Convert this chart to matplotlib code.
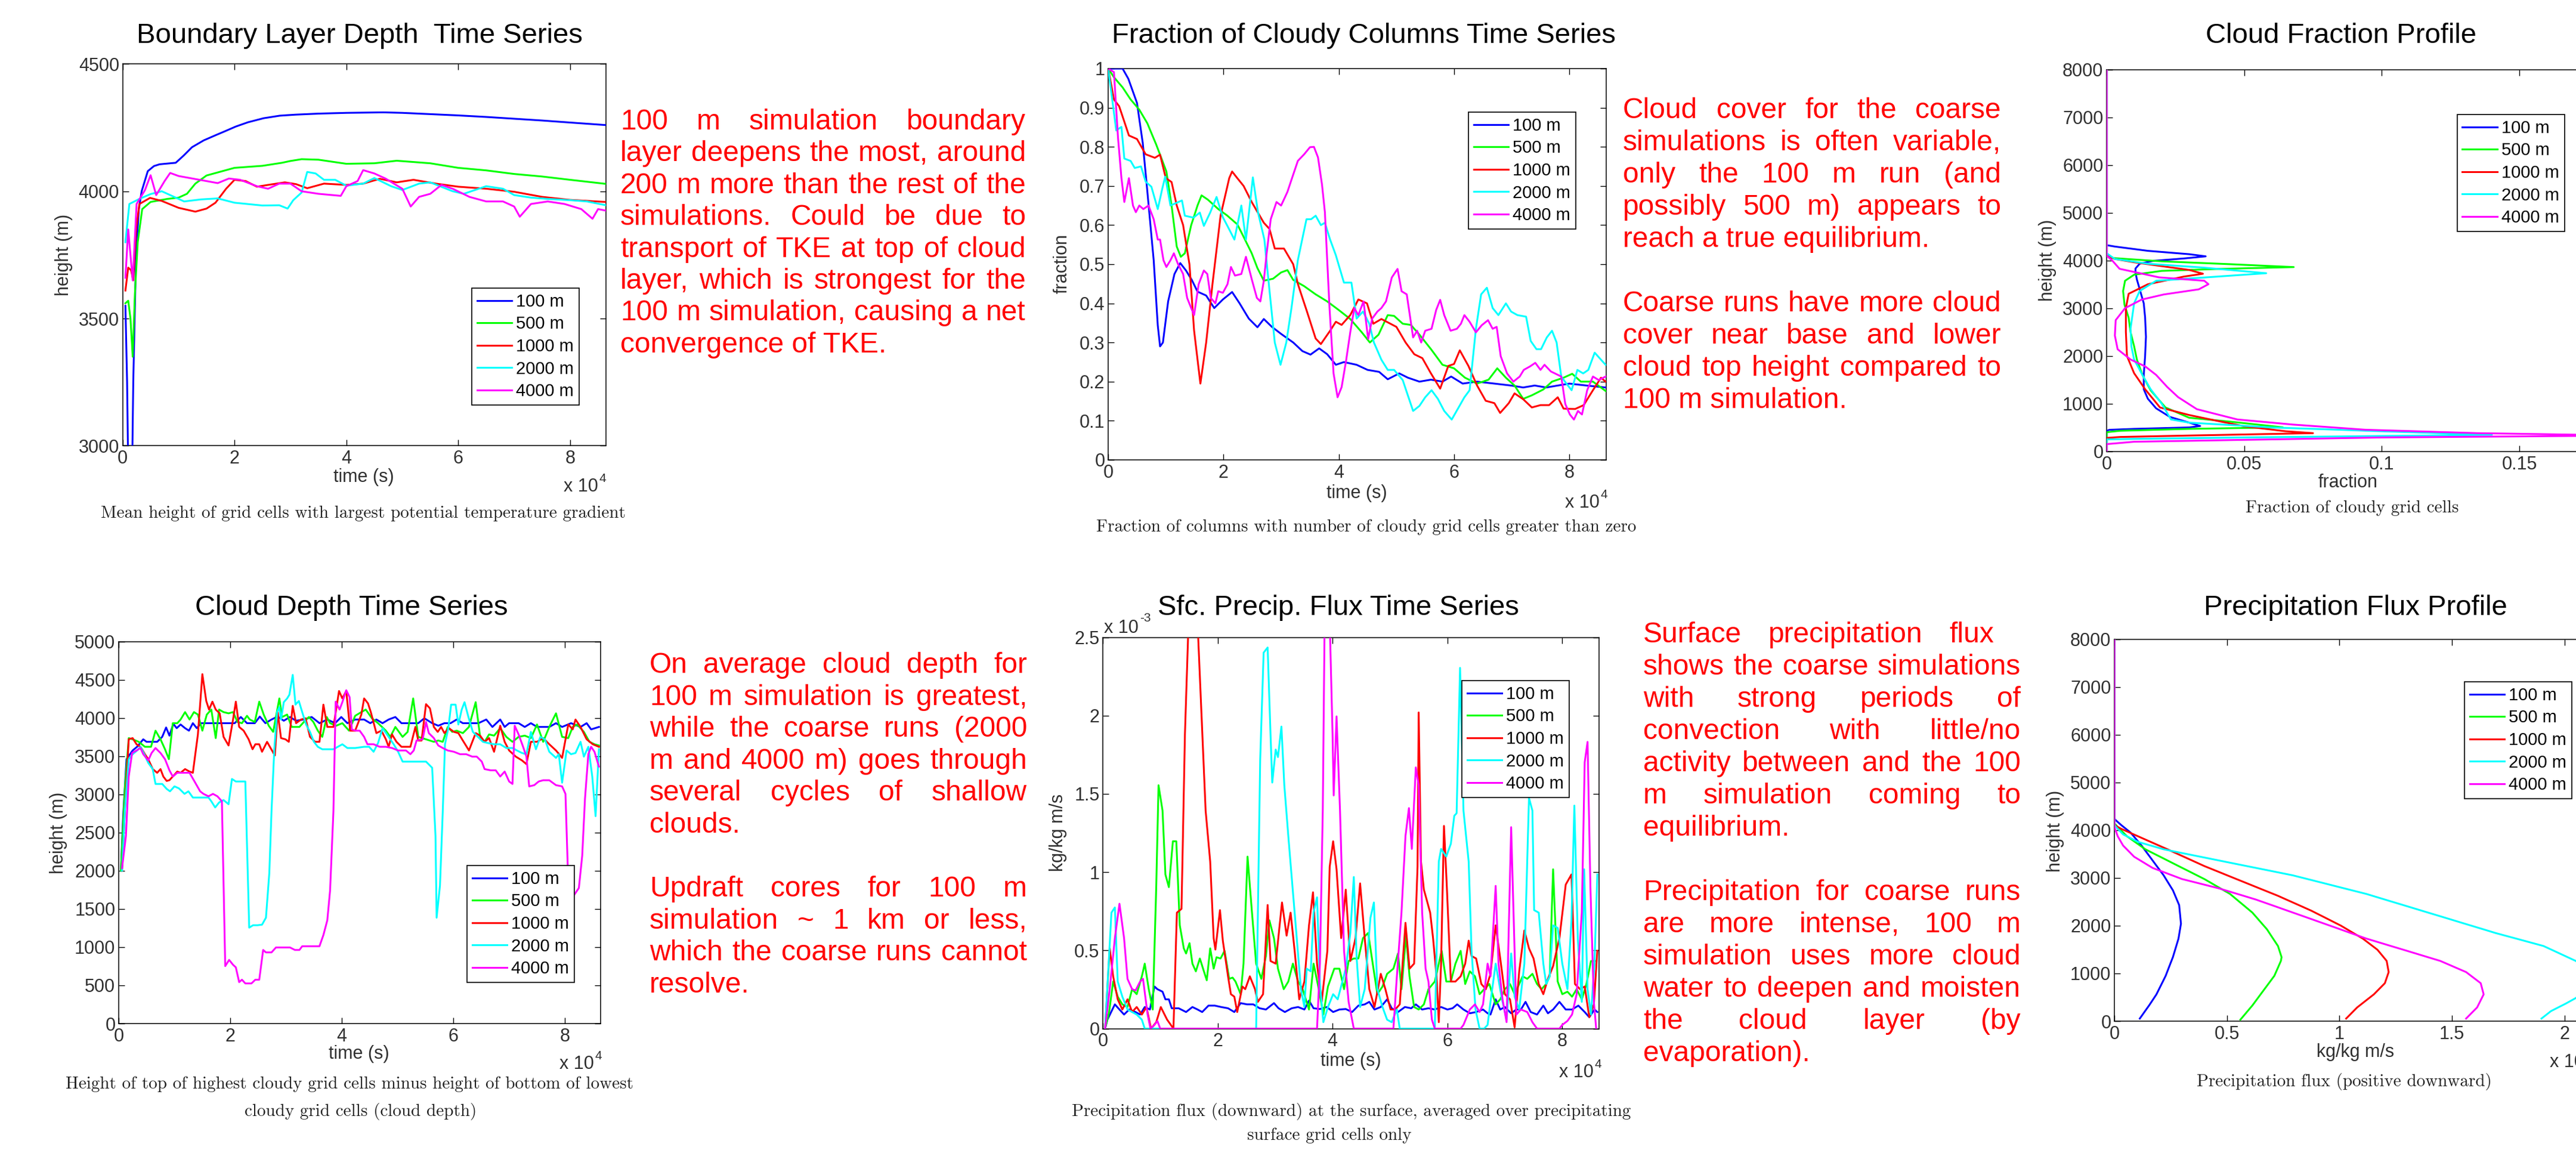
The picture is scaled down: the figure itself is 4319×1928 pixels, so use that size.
import matplotlib
matplotlib.use('Agg')
import matplotlib.pyplot as plt
from matplotlib.ticker import FixedLocator, FuncFormatter

# ---------------------------------------------------------------- data
SERIES = ['100 m', '500 m', '1000 m', '2000 m', '4000 m']
COLORS = ['#0000ff', '#00ff00', '#ff0000', '#00ffff', '#ff00ff']

# Boundary layer depth time series: (time [1e4 s], height [m])
BL_100 = [(0.05,3550),(0.08,3250),(0.10,2900),(0.17,2900),(0.19,3250),(0.24,3750),(0.29,3930),(0.34,4000),
          (0.45,4079),(0.56,4099),(0.66,4106),(0.95,4112),(1.09,4140),(1.24,4173),(1.45,4200),(1.66,4220),
          (1.81,4234),(2.02,4254),(2.24,4271),(2.52,4287),(2.81,4297),(3.09,4301),(3.50,4305),(4.00,4308),
          (4.66,4310),(5.00,4308),(5.50,4303),(6.00,4298),(6.50,4292),(7.00,4285),(7.50,4278),(8.00,4270),(8.64,4260)]
BL_500 = [(0.05,3560),(0.10,3570),(0.14,3500),(0.18,3350),(0.22,3600),(0.27,3800),(0.35,3930),(0.50,3958),
          (0.80,3970),(1.00,3975),(1.15,3990),(1.30,4030),(1.50,4062),(1.80,4080),(2.00,4092),(2.50,4100),
          (2.85,4112),(3.00,4119),(3.20,4126),(3.50,4124),(4.00,4108),(4.50,4110),(4.90,4120),(5.50,4110),
          (6.00,4092),(6.50,4082),(7.00,4068),(7.50,4058),(8.00,4045),(8.64,4029)]
BL_1000 = [(0.05,3610),(0.10,3700),(0.15,3690),(0.19,3650),(0.24,3850),(0.30,3950),(0.49,3974),(0.70,3962),
           (1.00,3935),(1.30,3920),(1.50,3932),(1.66,3955),(1.85,4010),(2.00,4045),(2.20,4040),(2.40,4018),
           (2.60,4025),(2.90,4035),(3.10,4028),(3.30,4012),(3.60,4030),(4.00,4025),(4.30,4030),(4.60,4049),
           (4.90,4035),(5.20,4045),(5.60,4030),(6.00,4018),(6.50,4010),(7.00,3998),(7.50,3978),(8.00,3966),(8.64,3958)]
BL_2000 = [(0.05,3800),(0.12,3950),(0.30,3970),(0.50,3989),(0.70,4000),(0.90,3980),(1.10,3960),(1.40,3968),
           (1.70,3972),(2.00,3955),(2.50,3944),(2.80,3945),(2.95,3932),(3.05,3965),(3.20,3995),(3.30,4076),
           (3.45,4070),(3.60,4045),(3.80,4045),(4.00,4022),(4.30,4030),(4.50,4052),(4.80,4020),(5.00,4005),
           (5.30,4030),(5.50,4035),(5.90,4000),(6.10,3990),(6.50,4020),(6.80,4010),(7.00,3985),(7.30,3975),
           (7.60,3970),(8.00,3965),(8.30,3960),(8.64,3945)]
BL_4000 = [(0.05,3660),(0.10,3850),(0.18,3650),(0.25,3950),(0.40,4005),(0.50,4063),(0.60,3985),(0.75,4040),
           (0.85,4072),(1.00,4060),(1.20,4052),(1.50,4040),(1.70,4032),(1.90,4050),(2.10,4045),(2.40,4020),
           (2.60,4010),(2.80,4030),(3.00,4030),(3.20,4000),(3.50,3990),(3.90,3982),(4.00,4020),(4.20,4040),
           (4.30,4083),(4.50,4070),(4.70,4050),(5.00,4010),(5.15,3940),(5.30,3978),(5.50,3990),(5.70,4025),
           (5.90,4010),(6.20,3978),(6.50,3960),(6.80,3960),(7.00,3940),(7.10,3900),(7.30,3950),(7.60,3960),
           (7.90,3950),(8.20,3930),(8.40,3892),(8.50,3930),(8.64,3924)]

# Fraction of cloudy columns: (time [1e4 s], fraction)
FC_100 = [(0,1.0),(0.25,1.0),(0.35,0.974),(0.50,0.912),(0.60,0.81),(0.68,0.685),(0.79,0.51),(0.86,0.344),
          (0.90,0.29),(0.95,0.30),(1.04,0.405),(1.15,0.475),(1.25,0.503),(1.35,0.484),(1.45,0.46),(1.55,0.43),
          (1.70,0.42),(1.84,0.388),(1.99,0.41),(2.15,0.429),(2.28,0.40),(2.44,0.361),(2.59,0.339),(2.70,0.36),
          (2.84,0.34),(3.00,0.322),(3.21,0.30),(3.37,0.278),(3.51,0.269),(3.66,0.285),(3.80,0.27),(3.95,0.243),
          (4.09,0.25),(4.31,0.243),(4.50,0.23),(4.70,0.225),(4.85,0.206),(5.05,0.221),(5.20,0.21),(5.40,0.20),
          (5.60,0.205),(5.80,0.20),(5.95,0.213),(6.15,0.195),(6.40,0.20),(6.70,0.195),(6.99,0.19),(7.20,0.185),
          (7.40,0.19),(7.60,0.185),(7.80,0.19),(8.00,0.195),(8.30,0.19),(8.63,0.185)]
FC_500 = [(0,1.0),(0.10,0.978),(0.25,0.952),(0.39,0.921),(0.54,0.895),(0.68,0.86),(0.83,0.807),(0.90,0.78),
          (1.01,0.737),(1.10,0.65),(1.19,0.545),(1.26,0.519),(1.33,0.528),(1.44,0.60),(1.55,0.65),(1.62,0.676),
          (1.73,0.665),(1.91,0.641),(2.06,0.625),(2.24,0.602),(2.35,0.57),(2.49,0.528),(2.59,0.49),(2.70,0.458),
          (2.86,0.463),(3.00,0.479),(3.11,0.485),(3.21,0.46),(3.40,0.444),(3.60,0.423),(3.80,0.405),(4.00,0.383),
          (4.20,0.36),(4.40,0.326),(4.54,0.30),(4.69,0.32),(4.85,0.37),(4.96,0.368),(5.11,0.348),(5.25,0.345),
          (5.40,0.32),(5.60,0.283),(5.80,0.243),(6.00,0.234),(6.19,0.21),(6.40,0.195),(6.60,0.205),(6.75,0.234),
          (6.90,0.21),(7.05,0.19),(7.20,0.156),(7.35,0.165),(7.55,0.18),(7.70,0.20),(7.90,0.21),(8.05,0.22),
          (8.20,0.20),(8.41,0.20),(8.63,0.176)]
FC_1000 = [(0,1.0),(0.10,0.921),(0.19,0.904),(0.36,0.829),(0.50,0.82),(0.65,0.781),(0.81,0.772),(0.90,0.78),
           (1.00,0.72),(1.10,0.71),(1.19,0.65),(1.30,0.60),(1.41,0.50),(1.49,0.331),(1.60,0.195),(1.70,0.30),
           (1.81,0.45),(1.95,0.624),(2.10,0.72),(2.15,0.737),(2.24,0.72),(2.35,0.70),(2.49,0.659),(2.70,0.606),
           (2.80,0.59),(2.89,0.54),(3.05,0.54),(3.21,0.50),(3.29,0.45),(3.44,0.383),(3.60,0.31),(3.69,0.296),
           (3.85,0.33),(3.95,0.353),(4.05,0.345),(4.20,0.37),(4.34,0.41),(4.49,0.40),(4.60,0.348),(4.74,0.36),
           (5.00,0.34),(5.16,0.30),(5.31,0.27),(5.45,0.26),(5.60,0.221),(5.76,0.182),(5.90,0.24),(6.00,0.245),
           (6.10,0.28),(6.25,0.24),(6.40,0.19),(6.55,0.151),(6.70,0.145),(6.80,0.12),(6.95,0.145),(7.05,0.17),
           (7.20,0.155),(7.35,0.134),(7.50,0.14),(7.65,0.14),(7.80,0.16),(7.90,0.131),(8.10,0.13),(8.25,0.14),
           (8.41,0.178),(8.55,0.21),(8.63,0.20)]
FC_2000 = [(0,1.0),(0.14,0.842),(0.23,0.851),(0.28,0.77),(0.39,0.764),(0.46,0.746),(0.57,0.75),(0.65,0.711),
           (0.75,0.698),(0.86,0.641),(0.94,0.694),(0.99,0.724),(1.08,0.65),(1.28,0.663),(1.33,0.624),(1.48,0.619),
           (1.59,0.632),(1.66,0.598),(1.77,0.632),(1.88,0.672),(1.99,0.62),(2.10,0.589),(2.19,0.563),(2.31,0.65),
           (2.39,0.563),(2.51,0.722),(2.60,0.632),(2.71,0.563),(2.80,0.431),(2.89,0.30),(2.99,0.243),(3.09,0.30),
           (3.18,0.388),(3.29,0.51),(3.44,0.615),(3.52,0.615),(3.60,0.624),(3.69,0.60),(3.76,0.606),(3.85,0.563),
           (3.95,0.523),(4.09,0.453),(4.22,0.453),(4.31,0.361),(4.42,0.379),(4.53,0.348),(4.61,0.30),(4.74,0.256),
           (4.85,0.23),(4.96,0.23),(5.11,0.204),(5.29,0.125),(5.40,0.138),(5.50,0.16),(5.61,0.178),(5.72,0.156),
           (5.83,0.125),(5.96,0.103),(6.06,0.129),(6.18,0.16),(6.27,0.178),(6.38,0.335),(6.47,0.423),(6.57,0.44),
           (6.67,0.388),(6.77,0.37),(6.90,0.40),(6.99,0.379),(7.10,0.37),(7.25,0.366),(7.33,0.304),(7.43,0.283),
           (7.51,0.283),(7.61,0.313),(7.70,0.33),(7.78,0.30),(7.86,0.213),(7.95,0.195),(8.04,0.178),(8.14,0.23),
           (8.24,0.221),(8.33,0.23),(8.44,0.274),(8.55,0.256),(8.63,0.243)]
FC_4000 = [(0,1.0),(0.10,0.991),(0.17,0.825),(0.23,0.72),(0.28,0.659),(0.36,0.72),(0.43,0.65),(0.48,0.633),
           (0.54,0.65),(0.61,0.641),(0.70,0.65),(0.79,0.615),(0.86,0.563),(0.90,0.563),(0.96,0.51),(1.01,0.493),
           (1.08,0.51),(1.14,0.528),(1.21,0.501),(1.30,0.475),(1.37,0.414),(1.44,0.388),(1.49,0.37),(1.57,0.449),
           (1.66,0.484),(1.72,0.475),(1.78,0.414),(1.86,0.40),(1.91,0.431),(1.99,0.427),(2.07,0.449),(2.13,0.493),
           (2.20,0.471),(2.31,0.475),(2.39,0.519),(2.49,0.462),(2.58,0.414),(2.64,0.405),(2.70,0.458),(2.75,0.528),
           (2.82,0.615),(2.92,0.659),(3.00,0.65),(3.11,0.685),(3.21,0.729),(3.29,0.764),(3.40,0.781),(3.50,0.799),
           (3.57,0.80),(3.64,0.773),(3.71,0.703),(3.76,0.633),(3.84,0.388),(3.91,0.221),(3.98,0.16),(4.05,0.186),
           (4.13,0.256),(4.20,0.326),(4.27,0.388),(4.34,0.37),(4.43,0.405),(4.51,0.309),(4.58,0.361),(4.67,0.379),
           (4.74,0.388),(4.82,0.405),(4.92,0.466),(5.02,0.488),(5.09,0.431),(5.18,0.423),(5.29,0.313),(5.36,0.33),
           (5.43,0.30),(5.50,0.33),(5.61,0.335),(5.69,0.383),(5.76,0.409),(5.83,0.37),(5.94,0.33),(6.05,0.335),
           (6.12,0.348),(6.18,0.37),(6.27,0.353),(6.38,0.326),(6.48,0.344),(6.59,0.357),(6.67,0.335),(6.74,0.34),
           (6.81,0.265),(6.92,0.221),(7.03,0.20),(7.14,0.213),(7.21,0.23),(7.32,0.239),(7.41,0.248),(7.50,0.23),
           (7.57,0.243),(7.68,0.226),(7.75,0.221),(7.86,0.213),(7.93,0.143),(8.01,0.116),(8.08,0.103),(8.15,0.125),
           (8.22,0.116),(8.31,0.178),(8.41,0.213),(8.51,0.204),(8.63,0.213)]

# Cloud fraction profile: (fraction, height [m])
CF_100 = [(0,8000),(0,4320),(0.003,4290),(0.015,4200),(0.030,4130),(0.036,4085),(0.028,4040),(0.017,3990),
          (0.012,3930),(0.0105,3830),(0.0105,3750),(0.011,3600),(0.012,3400),(0.0135,3100),(0.014,2800),
          (0.0143,2400),(0.014,2000),(0.0135,1600),(0.0135,1300),(0.015,1100),(0.018,900),(0.023,720),
          (0.030,600),(0.034,530),(0.030,500),(0.010,470),(0.001,450),(0,430),(0,0)]
CF_500 = [(0,8000),(0,4100),(0.002,4050),(0.02,3980),(0.045,3920),(0.068,3860),(0.04,3820),(0.02,3780),
          (0.01,3700),(0.0067,3573),(0.006,3358),(0.0065,3071),(0.008,2800),(0.0087,2497),(0.010,2200),
          (0.011,1923),(0.013,1600),(0.016,1277),(0.0214,918),(0.030,703),(0.045,620),(0.064,502),(0.030,470),
          (0.005,430),(0,400),(0,0)]
CF_1000 = [(0,8000),(0,4100),(0.003,4030),(0.01,3960),(0.02,3880),(0.030,3800),(0.035,3720),(0.028,3660),
           (0.015,3500),(0.008,3300),(0.007,3000),(0.007,2500),(0.0074,1995),(0.010,1636),(0.014,1300),
           (0.0194,918),(0.030,760),(0.040,640),(0.050,524),(0.065,420),(0.075,380),(0.03,330),(0.005,300),
           (0,280),(0,0)]
CF_2000 = [(0,8000),(0,4150),(0.003,4030),(0.015,3930),(0.035,3850),(0.058,3731),(0.035,3640),(0.018,3573),
           (0.012,3358),(0.010,3100),(0.0087,2569),(0.009,2200),(0.010,1923),(0.013,1600),(0.016,1300),
           (0.020,1000),(0.0234,667),(0.030,600),(0.060,500),(0.100,420),(0.140,345),(0.05,290),(0.01,260),
           (0,250),(0,0)]
CF_4000 = [(0,8000),(0,4100),(0.002,4000),(0.0047,3824),(0.019,3645),(0.0355,3573),(0.037,3501),(0.0335,3394),
           (0.0208,3286),(0.0127,3178),(0.0067,2999),(0.0033,2748),(0.003,2425),(0.004,2138),(0.0087,1923),
           (0.014,1780),(0.018,1600),(0.022,1349),(0.026,1134),(0.0328,882),(0.0475,667),(0.0676,560),
           (0.094,452),(0.1346,380),(0.19,330),(0.10,290),(0.01,200),(0,150),(0,0)]

# Cloud depth time series: (time [1e4 s], depth [m])
CD_100 = [(0.04,2001),(0.08,2714),(0.14,3460),(0.25,3574),(0.33,3622),(0.44,3720),(0.50,3687),(0.69,3687),
          (0.78,3752),(0.85,3875),(0.91,3768),(0.98,3921),(1.04,3866),(1.11,3914),(1.19,3866),(1.26,3833),
          (1.33,3931),(1.40,3866),(1.48,3931),(1.63,3931),(1.85,3931),(2.08,3931),(2.19,4012),(2.30,3931),
          (2.44,3931),(2.53,4018),(2.63,3931),(2.74,3979),(2.85,4018),(2.96,3963),(3.07,4012),(3.18,3963),
          (3.32,3979),(3.46,4012),(3.60,3931),(3.74,3979),(3.88,3931),(3.99,4012),(4.10,3931),(4.24,3979),
          (4.40,3979),(4.51,3931),(4.62,3979),(4.73,3931),(4.84,3979),(4.96,4012),(5.07,3931),(5.20,3931),
          (5.37,3931),(5.48,3995),(5.62,3931),(5.73,3898),(5.84,3931),(5.95,3931),(6.06,3979),(6.17,3931),
          (6.34,3931),(6.45,3931),(6.59,3979),(6.70,3882),(6.84,3979),(6.92,3882),(7.00,3931),(7.17,3931),
          (7.28,3882),(7.39,3931),(7.50,3882),(7.72,3882),(7.84,3931),(7.95,3882),(8.11,3931),(8.28,3882),
          (8.39,3931),(8.47,3850),(8.61,3882)]
CD_500 = [(0.04,2001),(0.11,3071),(0.18,3736),(0.25,3720),(0.36,3687),(0.47,3622),(0.58,3622),(0.66,3833),
          (0.75,3720),(0.83,3590),(0.90,3460),(0.97,3931),(1.05,3931),(1.11,3979),(1.19,4076),(1.27,3979),
          (1.35,4076),(1.42,4044),(1.50,3833),(1.58,4044),(1.66,4109),(1.74,3736),(1.80,4109),(1.88,4076),
          (1.97,4060),(2.05,4076),(2.13,3947),(2.21,3931),(2.30,4028),(2.35,3979),(2.44,3947),(2.52,4213),
          (2.60,4044),(2.69,3898),(2.77,3817),(2.88,4255),(2.93,4012),(3.02,4044),(3.10,3882),(3.24,3882),
          (3.32,3947),(3.41,4012),(3.49,3947),(3.57,3833),(3.65,3752),(3.73,4012),(3.79,3931),(3.90,3898),
          (4.01,3931),(4.13,3833),(4.24,4028),(4.35,4076),(4.43,4109),(4.54,3995),(4.65,3931),(4.79,3833),
          (4.87,3752),(4.96,3882),(5.09,3752),(5.18,3817),(5.28,4255),(5.37,3752),(5.51,3720),(5.65,3687),
          (5.73,3704),(5.81,3687),(5.90,3882),(5.98,3817),(6.06,3833),(6.17,3801),(6.28,3882),(6.40,4206),
          (6.48,3752),(6.56,3687),(6.64,3784),(6.73,3768),(6.84,3866),(6.95,3752),(7.06,3687),(7.17,3752),
          (7.28,3768),(7.39,3736),(7.50,3914),(7.61,3687),(7.72,3882),(7.84,4060),(7.95,3752),(8.06,3736),
          (8.14,3882),(8.22,3914),(8.34,3817),(8.44,3687),(8.53,3655),(8.61,3639)]
CD_1000 = [(0.06,2001),(0.11,2779),(0.18,3720),(0.25,3736),(0.32,3655),(0.39,3622),(0.47,3525),(0.53,3460),
           (0.61,3330),(0.69,3282),(0.75,3330),(0.80,3233),(0.86,3175),(0.91,3185),(0.97,3233),(1.05,3298),
           (1.11,3282),(1.19,3330),(1.27,3298),(1.33,3282),(1.42,3784),(1.50,4573),(1.57,4222),(1.62,4109),
           (1.68,4213),(1.74,4109),(1.81,4060),(1.88,3752),(1.97,3639),(2.05,3979),(2.10,4213),(2.16,3882),
           (2.24,3833),(2.33,3720),(2.40,3590),(2.45,3655),(2.52,3655),(2.57,3557),(2.66,3687),(2.71,3622),
           (2.80,3509),(2.85,4076),(2.91,3736),(2.99,3720),(3.05,3687),(3.12,4158),(3.18,3931),(3.27,3979),
           (3.35,3995),(3.43,3752),(3.52,3687),(3.60,3687),(3.67,4174),(3.74,3882),(3.85,3882),(3.95,4352),
           (4.01,4255),(4.08,4352),(4.15,3833),(4.24,3833),(4.35,4044),(4.40,4255),(4.47,4190),(4.52,4076),
           (4.62,3801),(4.71,3833),(4.79,3720),(4.84,3622),(4.90,3784),(4.98,3687),(5.07,3622),(5.15,3622),
           (5.23,3622),(5.32,3882),(5.37,3704),(5.43,3704),(5.51,4180),(5.58,4125),(5.65,3882),(5.72,3817),
           (5.78,3882),(5.84,3801),(5.92,3866),(6.01,3817),(6.09,3801),(6.17,3704),(6.28,3574),(6.40,3801),
           (6.48,3768),(6.56,3687),(6.64,3736),(6.73,3557),(6.84,3898),(6.92,3687),(7.00,3574),(7.12,3493),
           (7.23,3444),(7.31,3395),(7.39,3687),(7.50,3687),(7.61,3736),(7.72,3655),(7.84,3574),(7.95,3477),
           (8.06,3914),(8.14,3850),(8.19,3979),(8.28,3882),(8.39,3720),(8.50,3655),(8.61,3622)]
CD_2000 = [(0.06,2001),(0.11,2779),(0.18,3460),(0.25,3525),(0.33,3574),(0.39,3622),(0.47,3509),(0.53,3412),
           (0.61,3330),(0.66,3136),(0.78,3136),(0.86,3071),(0.92,3039),(1.00,3104),(1.08,3078),(1.18,3006),
           (1.25,3039),(1.33,2958),(1.41,2958),(1.52,2958),(1.61,2958),(1.66,2909),(1.73,2828),(1.80,2893),
           (1.88,2925),(1.97,2870),(2.03,3201),(2.10,3168),(2.19,3168),(2.27,3168),(2.34,1255),(2.41,1287),
           (2.49,1287),(2.57,1294),(2.64,1385),(2.70,1969),(2.74,2779),(2.79,3590),(2.84,4076),(2.88,4141),
           (2.91,3979),(2.96,4206),(3.02,4255),(3.06,4303),(3.12,4563),(3.17,4174),(3.23,4222),(3.29,4076),
           (3.36,3914),(3.43,3817),(3.50,3687),(3.57,3622),(3.65,3590),(3.85,3590),(4.01,3655),(4.10,3606),
           (4.24,3606),(4.40,3622),(4.49,3622),(4.57,3557),(4.65,3671),(4.73,3866),(4.84,3752),(4.93,3655),
           (5.01,3557),(5.09,3428),(5.23,3428),(5.37,3428),(5.51,3428),(5.62,3347),(5.68,2455),(5.70,1385),
           (5.76,1806),(5.81,2779),(5.85,3655),(5.91,3866),(5.96,4174),(6.04,4174),(6.09,3914),(6.15,4109),
           (6.20,4206),(6.27,4012),(6.35,3817),(6.44,3752),(6.53,3687),(6.62,3671),(6.73,3655),(6.84,3655),
           (6.95,3606),(7.06,3606),(7.14,3574),(7.23,3541),(7.31,3525),(7.39,3817),(7.48,3590),(7.56,3752),
           (7.64,3720),(7.72,3557),(7.84,3477),(7.89,3525),(7.95,3152),(8.03,3574),(8.11,3525),(8.19,3541),
           (8.28,3687),(8.34,3493),(8.42,3622),(8.49,3233),(8.55,2714),(8.61,3590)]
CD_4000 = [(0.06,2033),(0.13,2455),(0.18,3233),(0.24,3541),(0.32,3574),(0.39,3606),(0.44,3525),(0.53,3444),
           (0.59,3541),(0.66,3606),(0.75,3541),(0.83,3460),(0.91,3314),(0.97,3233),(1.05,3282),(1.14,3282),
           (1.27,3282),(1.36,3168),(1.46,3039),(1.52,3006),(1.61,2974),(1.69,3006),(1.77,2974),(1.85,2909),
           (1.91,752),(1.98,833),(2.05,769),(2.10,736),(2.16,542),(2.21,574),(2.27,525),(2.38,525),(2.45,574),
           (2.52,574),(2.59,963),(2.64,931),(2.74,931),(2.82,996),(2.96,996),(3.07,996),(3.16,963),(3.24,963),
           (3.29,1012),(3.41,1012),(3.60,1012),(3.67,1158),(3.74,1352),(3.79,1742),(3.85,2779),(3.89,4213),
           (3.96,4109),(4.01,4206),(4.08,4362),(4.14,4271),(4.18,3849),(4.25,3833),(4.32,3833),(4.40,3752),
           (4.46,3655),(4.57,3655),(4.68,3622),(4.79,3622),(4.90,3606),(5.01,3574),(5.15,3574),(5.23,3525),
           (5.29,3574),(5.34,3704),(5.45,3720),(5.51,3947),(5.56,3801),(5.65,3736),(5.73,3639),(5.81,3606),
           (5.90,3574),(6.01,3557),(6.12,3525),(6.23,3525),(6.34,3493),(6.42,3493),(6.51,3428),(6.56,3330),
           (6.67,3314),(6.76,3314),(6.84,3233),(6.92,3298),(7.00,3168),(7.06,3136),(7.10,3898),(7.17,3784),
           (7.25,3622),(7.31,3493),(7.36,3104),(7.45,3120),(7.53,3168),(7.61,3184),(7.72,3184),(7.84,3120),
           (7.95,3104),(8.01,3006),(8.05,2066),(8.08,1514),(8.16,1677),(8.25,1774),(8.31,2196),(8.36,2941),
           (8.42,3525),(8.47,3622),(8.53,3557),(8.61,3363)]

# Surface precipitation flux: (time [1e4 s], flux [1e-3 kg/kg m/s])
SP_100 = [(0.04,0.0),(0.08,0.057),(0.21,0.155),(0.29,0.122),(0.37,0.09),(0.46,0.122),(0.57,0.106),(0.65,0.09),
          (0.73,0.138),(0.82,0.122),(0.90,0.269),(0.95,0.252),(1.04,0.236),(1.09,0.187),(1.15,0.187),(1.20,0.130),
          (1.32,0.130),(1.45,0.106),(1.56,0.138),(1.65,0.122),(1.73,0.106),(1.84,0.147),(1.95,0.147),(2.06,0.138),
          (2.18,0.130),(2.29,0.106),(2.40,0.163),(2.51,0.155),(2.62,0.155),(2.73,0.130),(2.84,0.122),(2.98,0.163),
          (3.06,0.130),(3.17,0.106),(3.29,0.130),(3.40,0.138),(3.51,0.122),(3.59,0.179),(3.67,0.130),(3.78,0.125),
          (3.90,0.138),(4.01,0.106),(4.12,0.122),(4.23,0.125),(4.34,0.106),(4.45,0.147),(4.56,0.155),(4.64,0.171),
          (4.73,0.122),(4.84,0.138),(4.95,0.187),(5.03,0.130),(5.14,0.106),(5.26,0.138),(5.37,0.130),(5.45,0.155),
          (5.56,0.122),(5.67,0.130),(5.78,0.122),(5.89,0.138),(6.00,0.122),(6.09,0.130),(6.17,0.155),(6.28,0.122),
          (6.39,0.098),(6.50,0.106),(6.62,0.122),(6.70,0.098),(6.75,0.090),(6.84,0.187),(6.92,0.122),(7.00,0.138),
          (7.11,0.098),(7.20,0.122),(7.28,0.122),(7.36,0.171),(7.45,0.106),(7.56,0.090),(7.67,0.147),(7.75,0.098),
          (7.84,0.122),(7.95,0.171),(8.06,0.122),(8.17,0.122),(8.28,0.147),(8.39,0.106),(8.47,0.073),(8.56,0.122),
          (8.61,0.106)]
SP_500 = [(0.04,0.0),(0.11,0.106),(0.18,0.301),(0.26,0.204),(0.34,0.155),(0.43,0.138),(0.51,0.252),(0.59,0.220),
          (0.68,0.334),(0.73,0.415),(0.80,0.252),(0.87,0.122),(0.93,0.904),(0.97,1.555),(1.04,1.393),(1.09,0.985),
          (1.15,0.904),(1.22,1.197),(1.28,1.197),(1.34,0.660),(1.41,0.513),(1.45,0.480),(1.51,0.546),(1.56,0.415),
          (1.62,0.366),(1.69,0.448),(1.76,0.366),(1.81,0.309),(1.87,0.513),(1.93,0.383),(1.98,0.456),(2.05,0.448),
          (2.12,0.497),(2.20,0.318),(2.26,0.326),(2.31,0.301),(2.40,0.220),(2.45,0.415),(2.52,1.099),(2.59,0.774),
          (2.67,0.415),(2.76,0.318),(2.84,0.464),(2.90,0.692),(2.98,0.578),(3.05,0.383),(3.15,0.252),(3.23,0.301),
          (3.31,0.415),(3.40,0.301),(3.48,0.252),(3.59,0.122),(3.67,0.415),(3.76,0.252),(3.84,0.090),(3.92,0.269),
          (4.03,0.383),(4.12,0.383),(4.20,0.252),(4.28,0.432),(4.37,0.448),(4.45,0.448),(4.53,0.578),(4.62,0.611),
          (4.70,0.415),(4.78,0.220),(4.87,0.269),(4.95,0.350),(5.06,0.383),(5.14,0.480),(5.20,0.252),(5.28,0.594),
          (5.34,0.334),(5.42,0.138),(5.50,0.122),(5.59,0.155),(5.67,0.252),(5.78,0.301),(5.90,0.497),(5.98,0.301),
          (6.06,0.301),(6.14,0.415),(6.23,0.497),(6.31,0.285),(6.39,0.366),(6.48,0.334),(6.56,0.220),(6.64,0.252),
          (6.73,0.285),(6.84,0.155),(6.92,0.187),(7.00,0.252),(7.09,0.285),(7.17,0.220),(7.23,0.269),(7.31,0.334),
          (7.39,0.318),(7.48,0.350),(7.56,0.285),(7.64,0.252),(7.72,0.285),(7.78,0.334),(7.84,1.018),(7.92,0.301),
          (8.00,0.220),(8.09,0.236),(8.17,0.204),(8.25,0.252),(8.34,0.187),(8.42,0.285),(8.50,0.432),(8.59,0.432)]
SP_1000 = [(0.04,0.0),(0.12,0.513),(0.18,0.334),(0.26,0.187),(0.34,0.122),(0.43,0.187),(0.51,0.106),(0.59,0.138),
           (0.68,0.090),(0.76,0.138),(0.84,0.0),(0.93,0.041),(1.01,0.138),(1.12,0.057),(1.23,0.0),(1.29,0.741),
           (1.37,0.765),(1.43,1.881),(1.52,2.90),(1.62,2.85),(1.79,1.393),(1.87,1.067),(1.93,0.578),(1.96,0.505),
           (2.04,0.757),(2.09,0.562),(2.18,0.334),(2.23,0.220),(2.29,0.204),(2.34,0.106),(2.43,0.269),(2.48,0.252),
           (2.56,0.334),(2.65,0.252),(2.70,0.171),(2.79,0.220),(2.87,0.790),(2.92,0.432),(3.01,0.415),(3.12,0.806),
           (3.20,0.594),(3.27,0.741),(3.34,0.497),(3.42,0.187),(3.51,0.301),(3.59,0.660),(3.66,0.871),(3.73,0.415),
           (3.81,0.171),(3.91,0.497),(3.95,1.034),(4.01,1.197),(4.07,1.018),(4.15,0.578),(4.23,0.888),(4.31,0.432),
           (4.40,0.578),(4.48,0.928),(4.56,0.578),(4.64,0.252),(4.73,0.138),(4.84,0.350),(4.92,0.252),(5.01,0.122),
           (5.09,0.122),(5.17,0.155),(5.27,0.676),(5.34,0.383),(5.42,0.415),(5.48,1.034),(5.50,2.020),(5.54,1.067),
           (5.59,0.888),(5.64,0.822),(5.70,0.741),(5.75,0.578),(5.81,0.334),(5.85,0.041),(5.89,0.415),(5.94,1.295),
           (5.99,0.904),(6.06,0.301),(6.14,0.301),(6.23,0.334),(6.31,0.415),(6.37,0.562),(6.42,0.464),(6.50,0.448),
           (6.59,0.285),(6.67,0.252),(6.75,0.350),(6.84,0.660),(6.92,0.448),(7.00,0.220),(7.09,0.187),(7.17,0.008),
           (7.25,0.366),(7.34,0.627),(7.42,0.513),(7.50,0.448),(7.59,0.285),(7.67,0.220),(7.75,0.318),(7.84,0.399),
           (7.95,0.578),(8.06,0.920),(8.16,0.985),(8.22,0.285),(8.31,0.252),(8.39,0.269),(8.47,0.073),(8.55,0.155),
           (8.61,0.497)]
SP_2000 = [(0.04,0.0),(0.15,0.741),(0.21,0.774),(0.26,0.301),(0.34,0.204),(0.43,0.122),(0.51,0.106),(0.59,0.090),
           (0.68,0.057),(0.73,0.0),(2.67,0.0),(2.74,1.718),(2.80,2.402),(2.87,2.435),(2.92,1.881),(2.95,1.572),
           (3.01,1.783),(3.05,1.735),(3.11,1.930),(3.16,1.555),(3.23,1.230),(3.34,0.741),(3.45,0.252),(3.51,0.138),
           (3.55,0.383),(3.62,0.366),(3.67,0.741),(3.73,0.839),(3.78,0.285),(3.84,0.041),(3.92,0.138),(4.01,0.220),
           (4.09,0.187),(4.16,0.285),(4.23,0.383),(4.31,0.611),(4.37,0.969),(4.42,0.448),(4.48,0.138),(4.56,0.252),
           (4.66,0.708),(4.72,0.806),(4.78,0.252),(4.87,0.138),(4.95,0.057),(5.03,0.041),(5.12,0.122),(5.17,0.0),
           (5.78,0.0),(5.85,1.067),(5.89,1.148),(5.98,1.099),(6.06,1.181),(6.12,1.360),(6.16,1.376),(6.22,2.305),
           (6.28,1.393),(6.37,1.067),(6.42,0.497),(6.49,0.122),(6.56,0.0),(6.64,0.0),(6.70,0.024),(6.75,0.171),
           (6.84,0.415),(6.95,0.187),(7.03,0.057),(7.11,0.480),(7.17,0.204),(7.25,0.122),(7.34,0.415),(7.42,1.474),
           (7.48,1.393),(7.51,0.757),(7.59,0.741),(7.67,0.415),(7.72,0.285),(7.78,0.334),(7.84,0.660),(7.92,0.643),
           (8.00,0.415),(8.09,0.252),(8.16,0.692),(8.21,1.425),(8.27,0.578),(8.34,0.171),(8.38,1.018),(8.44,0.252),
           (8.50,0.090),(8.56,0.415),(8.61,0.985)]
SP_4000 = [(0.04,0.0),(0.12,0.252),(0.21,0.578),(0.29,0.798),(0.37,0.578),(0.43,0.318),(0.51,0.252),(0.57,0.244),
           (0.65,0.301),(0.70,0.318),(0.78,0.090),(0.83,0.0),(0.90,0.024),(0.95,0.049),(1.00,0.0),(3.73,0.0),
           (3.78,0.415),(3.83,1.393),(3.87,2.90),(3.93,2.90),(4.00,1.881),(4.02,1.490),(4.07,1.995),(4.13,1.393),
           (4.20,0.497),(4.28,0.171),(4.37,0.0),(5.06,0.0),(5.12,0.334),(5.20,0.741),(5.27,1.230),(5.33,1.409),
           (5.38,1.148),(5.45,1.669),(5.50,1.555),(5.56,0.741),(5.62,0.383),(5.67,0.301),(5.73,0.057),(5.78,0.0),
           (6.23,0.0),(6.28,0.024),(6.39,0.122),(6.48,0.155),(6.56,0.106),(6.62,0.155),(6.70,0.415),(6.75,0.334),
           (6.84,0.912),(6.89,0.415),(6.96,0.187),(7.03,0.041),(7.11,1.287),(7.20,0.090),(7.28,0.122),(7.39,0.106),
           (7.48,0.041),(7.56,0.0),(7.95,0.0),(8.00,0.024),(8.09,0.049),(8.17,0.090),(8.25,0.220),(8.34,0.741),
           (8.39,1.702),(8.44,1.832),(8.49,0.904),(8.55,0.171),(8.59,0.0)]

# Precipitation flux profile: (flux [1e-3 kg/kg m/s], height [m])
PF_100 = [(0.113,55),(0.154,327),(0.187,561),(0.228,950),(0.260,1340),(0.285,1729),(0.296,2041),(0.288,2430),
          (0.260,2742),(0.219,3054),(0.170,3365),(0.121,3677),(0.072,3950),(0.031,4105),(0.003,4222),(0,4261),(0,8000)]
PF_500 = [(0.560,31),(0.613,327),(0.662,639),(0.711,950),(0.740,1262),(0.743,1340),(0.727,1574),(0.678,1924),
          (0.613,2275),(0.514,2664),(0.400,2976),(0.269,3287),(0.138,3599),(0.056,3872),(0.015,4066),(0,4144),(0,8000)]
PF_1000 = [(1.030,55),(1.079,288),(1.153,561),(1.202,795),(1.219,1028),(1.210,1262),(1.169,1496),(1.104,1729),
           (1.006,2002),(0.875,2314),(0.727,2625),(0.563,2937),(0.400,3248),(0.236,3599),(0.105,3872),(0.031,4027),
           (0,4105),(0,8000)]
PF_2000 = [(1.898,55),(1.940,210),(2.005,366),(2.050,483),(2.100,650),(2.120,850),(2.100,1100),(2.050,1262),
           (1.907,1574),(1.694,1846),(1.448,2197),(1.120,2664),(0.793,3054),(0.465,3365),(0.219,3599),(0.105,3755),
           (0.039,3911),(0,4105),(0,8000)]
PF_4000 = [(1.563,55),(1.612,288),(1.641,561),(1.628,795),(1.563,1028),(1.448,1262),(1.284,1496),(1.120,1729),
           (0.957,2002),(0.793,2275),(0.629,2547),(0.465,2781),(0.301,2976),(0.170,3209),(0.088,3443),(0.039,3677),
           (0.015,3872),(0,4066),(0,8000)]

TITLES = ['Boundary Layer Depth  Time Series', 'Fraction of Cloudy Columns Time Series', 'Cloud Fraction Profile',
          'Cloud Depth Time Series', 'Sfc. Precip. Flux Time Series', 'Precipitation Flux Profile']

TEXT1 = ['100 m simulation boundary', 'layer deepens the most, around', '200 m more than the rest of the',
         'simulations.  Could be due to', 'transport of TKE at top of cloud', 'layer, which is strongest for the',
         '100 m simulation, causing a net', 'convergence of TKE.']
TEXT2 = ['Cloud cover for the coarse', 'simulations is often variable,', 'only the 100 m run (and',
         'possibly 500 m) appears to', 'reach a true equilibrium.', '', 'Coarse runs have more cloud',
         'cover near base and lower', 'cloud top height compared to', '100 m simulation.']
TEXT3 = ['On average cloud depth for', '100 m simulation is greatest,', 'while the coarse runs (2000',
         'm and 4000 m) goes through', 'several cycles of shallow', 'clouds.', '', 'Updraft cores for 100 m',
         'simulation ~ 1 km or less,', 'which the coarse runs cannot', 'resolve.']
TEXT4 = ['Surface precipitation flux', 'shows the coarse simulations', 'with strong periods of',
         'convection with little/no', 'activity between and the 100', 'm simulation coming to', 'equilibrium.',
         '', 'Precipitation for coarse runs', 'are more intense, 100 m', 'simulation uses more cloud',
         'water to deepen and moisten', 'the cloud layer (by', 'evaporation).']

# ---------------------------------------------------------------- figure
W, H, DPI = 4319, 1928, 100
fig = plt.figure(figsize=(W / DPI, H / DPI), dpi=DPI)
fig.patch.set_facecolor('white')
SANS = 'Liberation Sans'
SERIF = 'cmr10'
GRAY = '#303030'


def fx(x):
    return x / W


def fy(y):
    return 1 - y / H


def make_axes(L, T, R, B):
    return fig.add_axes([L / W, 1 - B / H, (R - L) / W, (B - T) / H])


fmt = FuncFormatter(lambda v, p: f'{v:g}')


def style(ax, xlim, ylim, xticks, yticks):
    ax.set_xlim(*xlim)
    ax.set_ylim(*ylim)
    ax.xaxis.set_major_locator(FixedLocator(xticks))
    ax.yaxis.set_major_locator(FixedLocator(yticks))
    ax.xaxis.set_major_formatter(fmt)
    ax.yaxis.set_major_formatter(fmt)
    ax.tick_params(direction='in', top=True, right=True, length=7, width=1.0, color='black',
                   labelsize=22, labelcolor=GRAY)
    ax.tick_params(axis='x', pad=5)
    ax.tick_params(axis='y', pad=4)
    for lab in ax.get_xticklabels() + ax.get_yticklabels():
        lab.set_fontfamily(SANS)
    for s in ax.spines.values():
        s.set_linewidth(1.1)
        s.set_color('black')


def plot_series(ax, datasets):
    handles = []
    for data, col in zip(datasets, COLORS):
        a = [p[0] for p in data]
        b = [p[1] for p in data]
        h, = ax.plot(a, b, color=col, lw=2.2, zorder=3, solid_joinstyle='round')
        handles.append(h)
    return handles


def legend(ax, handles, L, T):
    leg = ax.legend(handles, SERIES, loc='upper left', bbox_to_anchor=(fx(L), fy(T)),
                    bbox_transform=fig.transFigure, frameon=True, fancybox=False, shadow=False,
                    edgecolor='black', framealpha=1, borderpad=0.3, labelspacing=0.33,
                    handlelength=2.0, handletextpad=0.25, borderaxespad=0,
                    prop={'family': SANS, 'size': 21})
    leg.get_frame().set_linewidth(1.2)
    leg.set_zorder(10)
    return leg


def labels(ax, xl, xpos, yl, ypos):
    ax.set_xlabel(xl, fontsize=22, color=GRAY, fontfamily=SANS, va='center', ha='center')
    ax.xaxis.set_label_coords(fx(xpos[0]), fy(xpos[1]), transform=fig.transFigure)
    ax.set_ylabel(yl, fontsize=22, color=GRAY, fontfamily=SANS, va='center', ha='center')
    ax.yaxis.set_label_coords(fx(ypos[0]), fy(ypos[1]), transform=fig.transFigure)


def title(txt, x, y):
    fig.text(fx(x), fy(y), txt, ha='center', va='baseline', fontsize=34, fontfamily=SANS, color='black')


def caption(txt, x, y):
    fig.text(fx(x), fy(y), txt, ha='center', va='center', fontsize=21, fontfamily=SERIF, color='#202020')


def expo(base_x, base_y, sup):
    fig.text(fx(base_x), fy(base_y), 'x 10', ha='right', va='baseline', fontsize=22,
             fontfamily=SANS, color=GRAY)
    fig.text(fx(base_x + 1.5), fy(base_y - 16), sup, ha='left', va='baseline', fontsize=15,
             fontfamily=SANS, color=GRAY)


# ---- Panel 1: boundary layer depth
ax1 = make_axes(205.6, 107.3, 1015.9, 747.4)
h = plot_series(ax1, [BL_100, BL_500, BL_1000, BL_2000, BL_4000])
style(ax1, (0, 8.64), (3000, 4500), [0, 2, 4, 6, 8], [3000, 3500, 4000, 4500])
legend(ax1, h, 791, 483)
labels(ax1, 'time (s)', (610, 800), 'height (m)', (107, 427))
title(TITLES[0], 603, 72)
caption('Mean height of grid cells with largest potential temperature gradient', 609, 861)
expo(1003, 824, '4')

# ---- Panel 2: fraction of cloudy columns
ax2 = make_axes(1858, 115, 2693, 771)
h = plot_series(ax2, [FC_100, FC_500, FC_1000, FC_2000, FC_4000])
style(ax2, (0, 8.64), (0, 1), [0, 2, 4, 6, 8], [i / 10 for i in range(11)])
legend(ax2, h, 2462, 188)
labels(ax2, 'time (s)', (2275, 826.6), 'fraction', (1780.7, 442))
title(TITLES[1], 2286, 72)
caption('Fraction of columns with number of cloudy grid cells greater than zero', 2291, 884)
expo(2682, 851, '4')

# ---- Panel 3: cloud fraction profile (axes run past the right edge of the image)
ax3 = make_axes(3532, 116.5, 4340, 756.6)
h = plot_series(ax3, [CF_100, CF_500, CF_1000, CF_2000, CF_4000])
style(ax3, (0, 0.1751), (0, 8000), [0, 0.05, 0.1, 0.15], list(range(0, 8001, 1000)))
legend(ax3, h, 4119.5, 192)
labels(ax3, 'fraction', (3937, 809), 'height (m)', (3433.4, 436))
title(TITLES[2], 3925, 72)
caption('Fraction of cloudy grid cells', 3944, 852)

# ---- Panel 5: cloud depth
ax5 = make_axes(199, 1075.5, 1007, 1716)
h = plot_series(ax5, [CD_100, CD_500, CD_1000, CD_2000, CD_4000])
style(ax5, (0, 8.64), (0, 5000), [0, 2, 4, 6, 8], list(range(0, 5001, 500)))
legend(ax5, h, 783, 1451)
labels(ax5, 'time (s)', (602, 1767), 'height (m)', (98, 1396))
title(TITLES[3], 589, 1031)
caption('Height of top of highest cloudy grid cells minus height of bottom of lowest', 586, 1818)
caption('cloudy grid cells (cloud depth)', 605, 1864)
expo(996, 1792, '4')

# ---- Panel 6: surface precipitation flux
ax6 = make_axes(1849, 1068.5, 2681, 1724.5)
h = plot_series(ax6, [SP_100, SP_500, SP_1000, SP_2000, SP_4000])
style(ax6, (0, 8.64), (0, 2.5), [0, 2, 4, 6, 8], [0, 0.5, 1, 1.5, 2, 2.5])
legend(ax6, h, 2451, 1141)
labels(ax6, 'time (s)', (2265, 1779.5), 'kg/kg m/s', (1773.7, 1396))
title(TITLES[4], 2244, 1031)
caption('Precipitation flux (downward) at the surface, averaged over precipitating', 2266, 1864)
caption('surface grid cells only', 2229, 1904)
expo(2671.5, 1805.7, '4')
fig.text(fx(1851), fy(1061), 'x 10', ha='left', va='baseline', fontsize=22, fontfamily=SANS, color=GRAY)
fig.text(fx(1911), fy(1042), '-3', ha='left', va='baseline', fontsize=15, fontfamily=SANS, color=GRAY)

# ---- Panel 4: precipitation flux profile
ax4 = make_axes(3545, 1071.6, 4360, 1712)
h = plot_series(ax4, [PF_100, PF_500, PF_1000, PF_2000, PF_4000])
style(ax4, (0, 2.16), (0, 8000), [0, 0.5, 1, 1.5, 2], list(range(0, 8001, 1000)))
legend(ax4, h, 4132, 1143)
labels(ax4, 'kg/kg m/s', (3949.5, 1764), 'height (m)', (3445.8, 1393))
title(TITLES[5], 3949, 1031)
caption('Precipitation flux (positive downward)', 3930, 1814)
# exponent label of the x axis; like the reference it runs past the image edge
fig.text(fx(4275), fy(1789), 'x 10', ha='left', va='baseline', fontsize=22, fontfamily=SANS, color=GRAY)
fig.text(fx(4335), fy(1770), '-3', ha='left', va='baseline', fontsize=15, fontfamily=SANS, color=GRAY)

# ---------------------------------------------------------------- justified red text blocks
renderer = fig.canvas.get_renderer()
RED_FS = 34.5


def justified_block(lines, left, right, base0, dy, last, right_over=None):
    right_over = right_over or {}
    for i, line in enumerate(lines):
        if not line:
            continue
        y = fy(base0 + i * dy)
        if i in last:
            fig.text(fx(left), y, line, ha='left', va='baseline', fontsize=RED_FS,
                     fontfamily=SANS, color='#ff0000')
            continue
        words = line.split()
        objs = [fig.text(0, y, w, ha='left', va='baseline', fontsize=RED_FS, fontfamily=SANS,
                         color='#ff0000') for w in words]
        widths = [o.get_window_extent(renderer).width for o in objs]
        r = right_over.get(i, right)
        gap = (r - left - sum(widths)) / max(len(words) - 1, 1)
        x = left
        for o, wd in zip(objs, widths):
            o.set_x(fx(x))
            x += wd + gap


justified_block(TEXT1, 1040, 1720, 217, 53.4, {7})
justified_block(TEXT2, 2721, 3355, 198, 54.0, {4, 9})
justified_block(TEXT3, 1089, 1722, 1128, 53.6, {5, 10})
justified_block(TEXT4, 2755, 3388, 1076.6, 54.0, {6, 13}, {0: 3343})

fig.savefig('out.png', dpi=DPI, facecolor='white')
